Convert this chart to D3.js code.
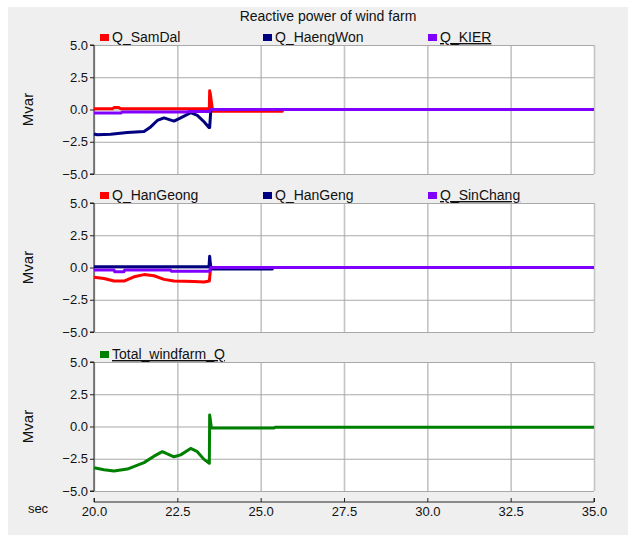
<!DOCTYPE html>
<html>
<head>
<meta charset="utf-8">
<script src="https://cdn.jsdelivr.net/npm/d3@7"></script>
<style>
  body { margin: 0; background: #fff; }
  svg { display: block; font-family: 'Liberation Sans', Arial, sans-serif; }
  .tick text { font-size: 13px; fill: #111; }
</style>
</head>
<body>
<svg width="636" height="542"></svg>
<script>
// 読み取った値 [time(sec), Mvar]
const qSamDal = [[20, 0.05], [20.55, 0.05], [20.6, 0.15], [20.75, 0.15], [20.8, 0.05], [23.46, 0.05],
  [23.47, 1.45], [23.49, 1.2], [23.52, 0.6], [23.56, -0.14], [25.65, -0.14], [25.66, 0], [35, 0]]
const qHaengWon = [[20, -1.9], [20.1, -1.95], [20.5, -1.92], [21, -1.78], [21.5, -1.7], [21.7, -1.35],
  [21.9, -0.85], [22.1, -0.65], [22.4, -0.9], [22.6, -0.65], [22.9, -0.25], [23.1, -0.45], [23.3, -0.95],
  [23.45, -1.4], [23.47, -1.4], [23.5, -0.2], [23.52, 0], [35, 0]]
const qKIER = [[20, -0.28], [20.8, -0.28], [20.85, -0.2], [22.8, -0.2], [22.85, -0.15], [23.46, -0.15],
  [23.5, 0], [35, 0]]

const qHanGeong = [[20, -0.75], [20.3, -0.85], [20.6, -1.05], [20.9, -1.05], [21.2, -0.72], [21.5, -0.55],
  [21.8, -0.64], [22.1, -0.92], [22.4, -1.05], [23, -1.08], [23.3, -1.13], [23.46, -1.05], [23.5, 0], [35, 0]]
const qHanGeng = [[20, 0.05], [23.45, 0.05], [23.47, 0.87], [23.49, 0.3], [23.52, -0.12], [25.35, -0.12],
  [25.36, 0], [35, 0]]
const qSinChang = [[20, -0.2], [20.6, -0.2], [20.62, -0.32], [20.9, -0.32], [20.92, -0.2], [22.3, -0.2],
  [22.32, -0.3], [23.46, -0.3], [23.5, 0], [35, 0]]

const totalQ = [[20, -3.2], [20.3, -3.35], [20.6, -3.45], [21, -3.3], [21.5, -2.8], [21.8, -2.3],
  [22.05, -1.95], [22.4, -2.35], [22.6, -2.2], [22.9, -1.7], [23.1, -1.95], [23.3, -2.55], [23.46, -2.85],
  [23.47, 0.9], [23.49, 0.5], [23.52, -0.12], [25.4, -0.12], [25.45, -0.05], [35, -0.05]]

// 軸の目盛り
const xTicks = [20, 22.5, 25, 27.5, 30, 32.5, 35]
const yTicks = [-5, -2.5, 0, 2.5, 5]

// パネルごとの系列
const panels = [
  { top: 45, names: ['Q_SamDal', 'Q_HaengWon', 'Q_KIER'], data: [qSamDal, qHaengWon, qKIER],
    colors: ['#ff0000', '#000080', '#8000ff'], underline: [false, false, true] },
  { top: 203, names: ['Q_HanGeong', 'Q_HanGeng', 'Q_SinChang'], data: [qHanGeong, qHanGeng, qSinChang],
    colors: ['#ff0000', '#000080', '#8000ff'], underline: [false, false, true] },
  { top: 362, names: ['Total_windfarm_Q'], data: [totalQ],
    colors: ['#008000'], underline: [true] }
]

const left = 94
const right = 594
const panelH = 129
const legendX = [100, 263, 428]

const svg = d3.select('svg')

// 背景
svg.append('rect')
  .attr('x', 8).attr('y', 7).attr('width', 620).attr('height', 528)
  .attr('fill', '#efefef')

svg.append('text')
  .attr('x', 328).attr('y', 21)
  .attr('text-anchor', 'middle')
  .attr('font-size', 14)
  .attr('fill', '#111')
  .text('Reactive power of wind farm')

const xScale = d3.scaleLinear().domain([20, 35]).range([left, right])

panels.forEach((p) => {
  const yScale = d3.scaleLinear().domain([-5, 5]).range([p.top + panelH, p.top])
  const line = d3.line().x(d => xScale(d[0])).y(d => yScale(d[1]))

  svg.append('rect')
    .attr('x', left).attr('y', p.top).attr('width', right - left).attr('height', panelH)
    .attr('fill', '#fff')

  // 縦グリッド
  svg.append('g')
    .attr('transform', `translate(0, ${p.top + panelH})`)
    .call(d3.axisBottom(xScale).tickValues(xTicks).tickSize(-panelH).tickFormat(''))
    .call(g => g.select('.domain').remove())
    .call(g => g.selectAll('line').attr('stroke', '#c4c4c4').attr('stroke-width', 1.6))

  // 横グリッド
  svg.append('g')
    .attr('transform', `translate(${left}, 0)`)
    .call(d3.axisLeft(yScale).tickValues(yTicks).tickSize(-(right - left)).tickFormat(''))
    .call(g => g.select('.domain').remove())
    .call(g => g.selectAll('line').attr('stroke', '#a8a8a8').attr('stroke-width', 1))

  // y軸
  svg.append('g')
    .attr('transform', `translate(${left}, 0)`)
    .call(d3.axisLeft(yScale).tickValues(yTicks).tickSize(4).tickPadding(2).tickFormat(d3.format('.1f')))
    .call(g => g.select('.domain').attr('stroke', '#222').attr('d', `M-4,${p.top}H0V${p.top + panelH}H-4`))
    .call(g => g.selectAll('line').attr('stroke', '#222'))

  svg.append('text')
    .attr('transform', `translate(33, ${p.top + panelH / 2}) rotate(-90)`)
    .attr('text-anchor', 'middle')
    .attr('font-size', 15)
    .attr('fill', '#111')
    .text('Mvar')

  // 系列の線
  p.data.forEach((series, i) => {
    svg.append('path')
      .datum(series)
      .attr('d', line)
      .attr('fill', 'none')
      .attr('stroke', p.colors[i])
      .attr('stroke-width', 3)
      .attr('stroke-linejoin', 'round')
  })

  // 凡例
  p.names.forEach((name, i) => {
    svg.append('rect')
      .attr('x', legendX[i]).attr('y', p.top - 11)
      .attr('width', 9).attr('height', 7)
      .attr('fill', p.colors[i])
    svg.append('text')
      .attr('x', legendX[i] + 12).attr('y', p.top - 3)
      .attr('font-size', 14)
      .attr('fill', '#111')
      .attr('text-decoration', p.underline[i] ? 'underline' : null)
      .text(name)
  })
})

// x軸（下側）
svg.append('g')
  .attr('transform', 'translate(0, 502)')
  .call(d3.axisTop(xScale).tickValues(xTicks).tickSize(4).tickFormat(d3.format('.1f')))
  .call(g => g.select('.domain').attr('stroke', '#222').attr('d', `M${left},-4V0H${right}V-4`))
  .call(g => g.selectAll('line').attr('stroke', '#222'))
  .call(g => g.selectAll('text').attr('y', 5).attr('dy', '0.71em'))

svg.append('text')
  .attr('x', 38).attr('y', 513)
  .attr('text-anchor', 'middle')
  .attr('font-size', 13)
  .attr('fill', '#111')
  .text('sec')
</script>
</body>
</html>
